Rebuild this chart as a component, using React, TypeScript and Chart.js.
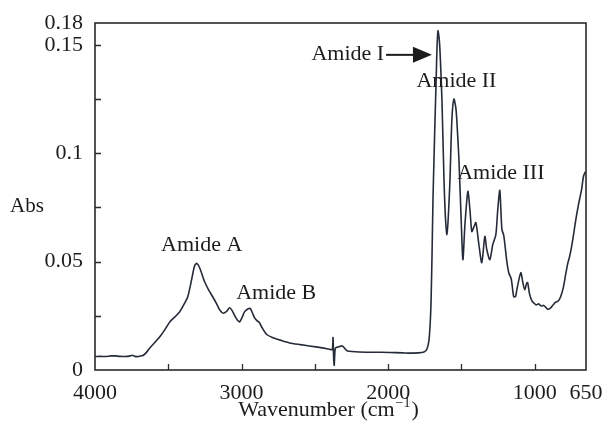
import React, { useEffect, useRef } from 'react';
import { Chart, registerables } from 'chart.js';

Chart.register(...registerables);

// FTIR spectrum (wavenumber in cm^-1, absorbance)
const wavenumbers = [
  4000, 3960, 3932, 3890, 3864, 3830, 3796, 3765, 3748, 3728, 3707, 3690, 3673, 3650, 3626, 3590, 3558, 3520, 3490, 3455,
  3422, 3395, 3367, 3340, 3320, 3305, 3286, 3252, 3225, 3197, 3170, 3150, 3125, 3100, 3082, 3065, 3048, 3030, 3014, 2998,
  2980, 2955, 2939, 2925, 2912, 2895, 2878, 2860, 2830, 2790, 2741, 2673, 2600, 2537, 2449, 2400, 2381, 2376, 2372, 2368,
  2362, 2354, 2340, 2313, 2290, 2279, 2197, 2100, 1993, 1900, 1857, 1800, 1755, 1735, 1721, 1712, 1707, 1700, 1694, 1686,
  1680, 1672, 1667, 1660, 1652, 1646, 1633, 1619, 1608, 1599, 1590, 1578, 1565, 1551, 1537, 1527, 1517, 1503, 1490, 1476,
  1456, 1442, 1429, 1415, 1401, 1381, 1361, 1340, 1327, 1306, 1286, 1265, 1252, 1238, 1224, 1211, 1190, 1177, 1160, 1143,
  1130, 1122, 1095, 1080, 1068, 1055, 1048, 1035, 1020, 1007, 990, 973, 955, 939, 925, 910, 891, 875, 857, 840,
  823, 805, 789, 775, 762, 748, 735, 718, 701, 690, 680, 667, 655,
];
const absorbance = [
  0.0062, 0.0063, 0.0062, 0.0065, 0.0065, 0.0063, 0.0062, 0.0064, 0.0068, 0.0063, 0.0062, 0.0065, 0.0067, 0.008, 0.0102, 0.0128, 0.0153, 0.019, 0.0222, 0.0245,
  0.0269, 0.03, 0.0338, 0.042, 0.0482, 0.0492, 0.0472, 0.0407, 0.037, 0.0338, 0.0305, 0.0278, 0.0262, 0.0272, 0.0287, 0.0275, 0.0252, 0.0232, 0.0222, 0.024,
  0.0268, 0.0283, 0.0282, 0.0262, 0.0242, 0.0228, 0.0218, 0.0195, 0.0165, 0.015, 0.0139, 0.0125, 0.0117, 0.0111, 0.0102, 0.0096, 0.0094, 0.015, 0.006, 0.0022,
  0.0095, 0.0104, 0.0106, 0.0111, 0.0095, 0.0088, 0.0083, 0.0082, 0.0081, 0.0079, 0.0078, 0.0079, 0.0083, 0.0097, 0.0139, 0.023, 0.032, 0.055, 0.0787, 0.1,
  0.1157, 0.135, 0.148, 0.1565, 0.153, 0.147, 0.125, 0.088, 0.069, 0.0625, 0.07, 0.088, 0.1157, 0.125, 0.1204, 0.11, 0.0972, 0.0718, 0.0509, 0.0671,
  0.0824, 0.074, 0.0639, 0.066, 0.068, 0.0579, 0.0495, 0.0616, 0.0556, 0.0509, 0.0579, 0.0625, 0.074, 0.0829, 0.065, 0.062, 0.05, 0.0449, 0.042, 0.0338,
  0.034, 0.037, 0.0449, 0.04, 0.037, 0.04, 0.0403, 0.035, 0.032, 0.031, 0.03, 0.0305, 0.0295, 0.0298, 0.029, 0.028, 0.0287, 0.03, 0.0313, 0.0318,
  0.0338, 0.038, 0.044, 0.049, 0.0523, 0.057, 0.0625, 0.07, 0.0764, 0.08, 0.0833, 0.0894, 0.0915,
];

const xMin = 650;
const xMax = 4000;
const yMin = 0;
const yMax = 0.1601;
const xTickValues = [4000, 3000, 2000, 1000, 650];
const xMinorTicks = [3500, 3000, 2500, 2000, 1500, 1000];
const yTickValues = [0, 0.05, 0.1, 0.15, 0.1601];
const yTickLabels = ['0', '0.05', '0.1', '0.15', '0.18'];
const yMinorTicks = [0.025, 0.05, 0.075, 0.1, 0.125, 0.15];

const annotationTexts = ['Amide A', 'Amide B', 'Amide I', 'Amide II', 'Amide III'];
const annotationX = [3272, 2764, 2275, 1534, 1231];
const annotationY = [0.0577, 0.0353, 0.1458, 0.1331, 0.0907];
const arrowFromX = 2014;
const arrowToX = 1701;
const arrowY = 0.1454;

const SERIF = '"Liberation Serif", "Times New Roman", serif';
const INK = '#1c1c1c';

const decorPlugin = {
  id: 'decor',
  afterDraw(chart: any) {
    const { ctx, chartArea } = chart;
    const { left, right, top, bottom } = chartArea;
    const x = chart.scales.x;
    const y = chart.scales.y;
    ctx.save();
    // frame
    ctx.strokeStyle = '#2a2a2a';
    ctx.lineWidth = 1.6;
    ctx.strokeRect(left, top, right - left, bottom - top);
    // inward ticks
    ctx.lineWidth = 1.3;
    ctx.beginPath();
    xMinorTicks.forEach((v) => {
      const px = Math.round(x.getPixelForValue(v)) + 0.5;
      ctx.moveTo(px, bottom);
      ctx.lineTo(px, bottom - 6);
    });
    yMinorTicks.forEach((v) => {
      const py = Math.round(y.getPixelForValue(v)) + 0.5;
      ctx.moveTo(left, py);
      ctx.lineTo(left + 6, py);
    });
    ctx.stroke();

    // annotations
    ctx.fillStyle = INK;
    ctx.font = `22px ${SERIF}`;
    ctx.textAlign = 'center';
    ctx.textBaseline = 'middle';
    annotationTexts.forEach((t, i) => {
      ctx.fillText(t, x.getPixelForValue(annotationX[i]), y.getPixelForValue(annotationY[i]));
    });

    // arrow for Amide I
    const ax0 = x.getPixelForValue(arrowFromX);
    const ax1 = x.getPixelForValue(arrowToX);
    const ay = y.getPixelForValue(arrowY);
    ctx.strokeStyle = INK;
    ctx.lineWidth = 2;
    ctx.beginPath();
    ctx.moveTo(ax0, ay);
    ctx.lineTo(ax1 - 14, ay);
    ctx.stroke();
    ctx.beginPath();
    ctx.moveTo(ax1, ay);
    ctx.lineTo(ax1 - 19, ay - 8);
    ctx.lineTo(ax1 - 19, ay + 8);
    ctx.closePath();
    ctx.fill();

    // y-axis title
    ctx.font = `21px ${SERIF}`;
    ctx.textAlign = 'center';
    ctx.textBaseline = 'middle';
    ctx.fillText('Abs', left - 68, top + 183);

    // x-axis title with superscript
    const main = 'Wavenumber (cm';
    const sup = '\u2212' + '1';
    const close = ')';
    ctx.font = `22px ${SERIF}`;
    const wMain = ctx.measureText(main).width;
    const wClose = ctx.measureText(close).width;
    ctx.font = `14px ${SERIF}`;
    const wSup = ctx.measureText(sup).width;
    const total = wMain + wSup + 2 + wClose;
    const cx = (left + right) / 2 - 12;
    const base = bottom + 46;
    let sx = cx - total / 2;
    ctx.textAlign = 'left';
    ctx.textBaseline = 'alphabetic';
    ctx.font = `22px ${SERIF}`;
    ctx.fillText(main, sx, base);
    sx += wMain + 1;
    ctx.font = `14px ${SERIF}`;
    ctx.fillText(sup, sx, base - 9);
    sx += wSup + 1;
    ctx.font = `22px ${SERIF}`;
    ctx.fillText(close, sx, base);
    ctx.restore();
  },
};

export default function App() {
  const canvasRef = useRef<HTMLCanvasElement | null>(null);

  useEffect(() => {
    document.body.style.margin = '0';
    const canvas = canvasRef.current;
    if (!canvas) return;
    const points = wavenumbers.map((w, i) => ({ x: w, y: absorbance[i] }));
    const chart = new Chart(canvas, {
      type: 'line',
      data: {
        datasets: [
          {
            data: points,
            borderColor: '#252b38',
            borderWidth: 1.6,
            pointRadius: 0,
            tension: 0.25,
            fill: false,
          },
        ],
      },
      options: {
        responsive: false,
        animation: false,
        events: [],
        layout: { padding: { top: 23, right: 20, left: 0, bottom: 0 } },
        plugins: {
          legend: { display: false },
          tooltip: { enabled: false },
        },
        scales: {
          x: {
            type: 'linear',
            reverse: true,
            min: xMin,
            max: xMax,
            grid: { display: false, drawTicks: false },
            border: { display: false },
            afterBuildTicks: (scale: any) => {
              scale.ticks = xTickValues.map((v) => ({ value: v }));
            },
            afterFit: (scale: any) => {
              scale.height = 58;
              scale.paddingLeft = 0;
              scale.paddingRight = 0;
            },
            ticks: {
              autoSkip: false,
              maxRotation: 0,
              padding: 10,
              color: INK,
              font: { family: SERIF, size: 22 },
              callback: (v: any) => String(v),
            },
          },
          y: {
            type: 'linear',
            min: yMin,
            max: yMax,
            grid: { display: false, drawTicks: false },
            border: { display: false },
            afterBuildTicks: (scale: any) => {
              scale.ticks = yTickValues.map((v) => ({ value: v }));
            },
            afterFit: (scale: any) => {
              scale.width = 95;
              scale.paddingTop = 0;
              scale.paddingBottom = 0;
            },
            ticks: {
              autoSkip: false,
              padding: 12,
              color: INK,
              font: { family: SERIF, size: 22 },
              callback: (_v: any, i: number) => yTickLabels[i],
            },
          },
        },
      },
      plugins: [decorPlugin],
    });
    return () => chart.destroy();
  }, []);

  return (
    <div style={{ width: 606, height: 428, background: '#fff' }}>
      <canvas ref={canvasRef} width={606} height={428} />
    </div>
  );
}
